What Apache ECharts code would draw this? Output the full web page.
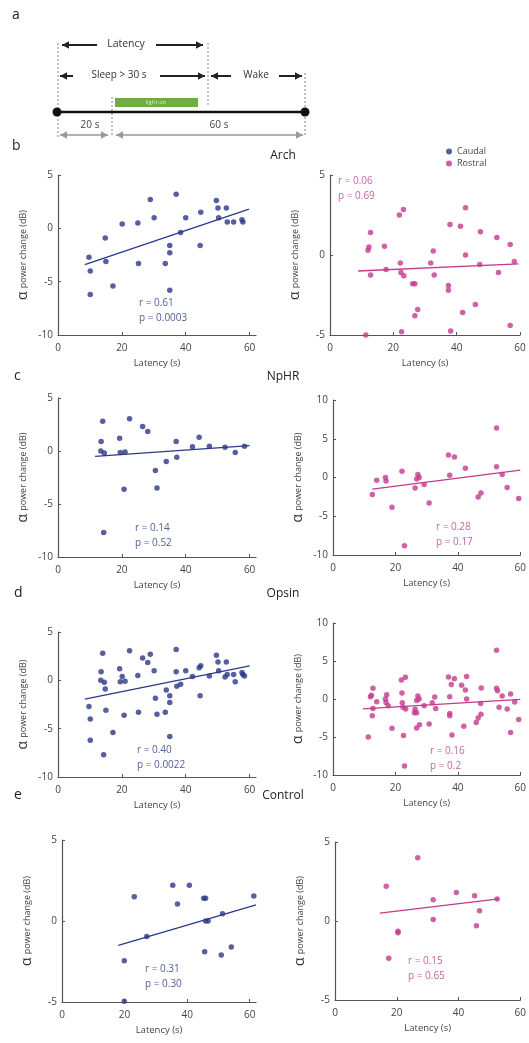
<!DOCTYPE html>
<html>
<head>
<meta charset="utf-8">
<script src="https://cdn.jsdelivr.net/npm/echarts@6/dist/echarts.min.js"></script>
<style>
  html, body { margin: 0; padding: 0; background: #fff; }
  #chart { width: 529px; height: 1043px; }
</style>
</head>
<body>
<div id="chart"></div>
<script>
// latency (s), alpha power change (dB)
const archCaudal = [[9.7,-2.7],[10.1,-4.0],[10.1,-6.2],[14.8,-0.9],[15,-3.1],[17.2,-5.4],[20.1,0.4],[25,0.5],[25.2,-3.3],[28.9,2.7],[30.1,1.0],[33.6,-3.3],[35,-1.6],[35,-2.3],[35,-5.8],[37,3.2],[38.4,-0.4],[40,1.0],[44.7,1.5],[44.5,-1.6],[49.6,2.6],[50.1,1.9],[50.3,1.0],[52.7,1.9],[53,0.6],[55,0.6],[57.6,0.8],[57.9,0.6]]
const archRostral = [[11.3,-5.0],[12,0.3],[12.3,0.5],[12.8,1.4],[12.8,-1.25],[17.2,0.55],[17.7,-0.9],[21.9,2.5],[23.2,2.85],[22.2,-0.5],[22.4,-1.1],[23.3,-1.3],[22.6,-4.8],[26.1,-1.8],[26.8,-1.8],[26.8,-3.8],[27.7,-3.4],[31.8,-0.5],[32.6,0.25],[32.9,-1.25],[37.4,-1.9],[37.4,-2.2],[37.9,1.9],[38.1,-4.75],[41.2,1.8],[41.9,-3.6],[42.8,2.95],[42.8,0],[45.9,-3.1],[47.3,-0.6],[47.5,1.45],[52.7,1.1],[53.2,-1.1],[56.9,0.65],[56.9,-4.4],[58.2,-0.4]]
const nphrCaudal = [[14,2.8],[13.5,0.9],[13.4,0],[14.5,-0.2],[14.3,-7.7],[19.3,1.2],[19.5,-0.15],[21,-0.1],[20.7,-3.6],[22.4,3.05],[26.5,2.3],[28.1,1.85],[30.5,-1.85],[31,-3.5],[33.9,-1.0],[37,0.9],[37.2,-0.6],[42.1,0.4],[44.2,1.3],[47.4,0.45],[52.3,0.35],[55.5,-0.15],[58.4,0.45]]
const nphrRostral = [[12.6,-2.2],[14,-0.35],[16.8,0],[17,-0.45],[22.1,0.8],[18.9,-3.85],[22.9,-8.8],[26.3,-1.35],[26.8,-0.2],[27.2,0.4],[27.6,0],[29.2,-0.9],[30.8,-3.3],[37,2.9],[37.4,0.3],[38.9,2.65],[42.4,1.2],[46.5,-2.5],[47.4,-2.0],[52.4,6.4],[52.4,1.4],[54.2,0.4],[55.8,-1.3],[59.5,-2.7]]
const ctrlCaudal = [[19.9,-2.45],[19.9,-4.95],[23.1,1.5],[27.1,-0.95],[35.4,2.2],[36.9,1.05],[40.7,2.2],[45.3,1.4],[45.9,1.4],[45.9,0],[46.7,0],[45.6,-1.9],[50.9,-2.1],[51.3,0.45],[54.1,-1.6],[61.3,1.55]]
const ctrlRostral = [[16.6,2.2],[17.4,-2.35],[20.4,-0.65],[20.4,-0.75],[26.8,4.0],[31.8,1.35],[31.8,0.1],[39.3,1.8],[45.2,1.6],[45.8,-0.3],[46.8,0.65],[52.5,1.4]]

// regression line end points
const archCaudalFit = [[8.4,-3.4],[59.8,1.8]]
const archRostralFit = [[8.9,-1.0],[59.5,-0.55]]
const nphrCaudalFit = [[11.6,-0.5],[60,0.5]]
const nphrRostralFit = [[12.6,-1.5],[60,0.95]]
const opsinCaudalFit = [[8.4,-1.95],[60,1.5]]
const opsinRostralFit = [[9.6,-1.3],[60,-0.05]]
const ctrlCaudalFit = [[18,-1.5],[62,1.0]]
const ctrlRostralFit = [[14.5,0.5],[53,1.4]]

const statsR = ['r = 0.61', 'r = 0.06', 'r = 0.14', 'r = 0.28', 'r = 0.40', 'r = 0.16', 'r = 0.31', 'r = 0.15']
const statsP = ['p = 0.0003', 'p = 0.69', 'p = 0.52', 'p = 0.17', 'p = 0.0022', 'p = 0.2', 'p = 0.30', 'p = 0.65']
const groupNames = ['Arch', 'NpHR', 'Opsin', 'Control']
const xTicks = [0, 20, 40, 60]

const BLUE = '#2c3888'
const PINK = '#c43a8c'
const BLUE_TXT = '#52609a'
const PINK_TXT = '#c566a2'
const FONT = '"Open Sans", "Noto Sans", sans-serif'

// opsin = arch + nphR animals
const opsinCaudal = archCaudal.concat(nphrCaudal)
const opsinRostral = archRostral.concat(nphrRostral)

const panels = [
  { left: 58, top: 175, h: 160, xMax: 62, w: 198, yMin: -10, yMax: 5, data: archCaudal, fit: archCaudalFit, side: 'Caudal', tx: 139, ty: 305 },
  { left: 330, top: 175, h: 160, xMax: 60, w: 190, yMin: -5, yMax: 5, data: archRostral, fit: archRostralFit, side: 'Rostral', tx: 338, ty: 183 },
  { left: 58, top: 398, h: 159, xMax: 62, w: 198, yMin: -10, yMax: 5, data: nphrCaudal, fit: nphrCaudalFit, side: 'Caudal', tx: 135, ty: 530 },
  { left: 333, top: 400, h: 155, xMax: 60, w: 190, yMin: -10, yMax: 10, data: nphrRostral, fit: nphrRostralFit, side: 'Rostral', tx: 436, ty: 529 },
  { left: 58, top: 632, h: 145, xMax: 62, w: 198, yMin: -10, yMax: 5, data: opsinCaudal, fit: opsinCaudalFit, side: 'Caudal', tx: 137, ty: 752 },
  { left: 333, top: 623, h: 152, xMax: 60, w: 190, yMin: -10, yMax: 10, data: opsinRostral, fit: opsinRostralFit, side: 'Rostral', tx: 430, ty: 753 },
  { left: 62, top: 840, h: 162, xMax: 62, w: 194, yMin: -5, yMax: 5, data: ctrlCaudal, fit: ctrlCaudalFit, side: 'Caudal', tx: 145, ty: 971 },
  { left: 335, top: 842, h: 158, xMax: 60, w: 188, yMin: -5, yMax: 5, data: ctrlRostral, fit: ctrlRostralFit, side: 'Rostral', tx: 408, ty: 963 }
]

let myChart = echarts.init(document.getElementById('chart'))

let grids = []
let xAxes = []
let yAxes = []
let series = []
let graphics = []

panels.forEach(function (p, i) {
  let col = p.side === 'Caudal' ? BLUE : PINK
  let txtCol = p.side === 'Caudal' ? BLUE_TXT : PINK_TXT
  grids.push({ left: p.left, top: p.top, width: p.w, height: p.h })
  xAxes.push({
    gridIndex: i, type: 'value', min: 0, max: p.xMax,
    axisLine: { show: true, onZero: false, lineStyle: { color: '#555', width: 1.2 } },
    axisTick: { show: true, inside: true, length: 3, customValues: xTicks, lineStyle: { color: '#555' } },
    axisLabel: { customValues: xTicks, fontSize: 10, color: '#444', margin: 8, fontFamily: FONT },
    splitLine: { show: false },
    name: 'Latency (s)', nameLocation: 'middle', nameGap: 23,
    nameTextStyle: { fontSize: 9.5, color: '#444', fontFamily: FONT }
  })
  yAxes.push({
    gridIndex: i, type: 'value', min: p.yMin, max: p.yMax, interval: 5,
    axisLine: { show: true, onZero: false, lineStyle: { color: '#555', width: 1.2 } },
    axisTick: { show: true, inside: true, length: 3, lineStyle: { color: '#555' } },
    axisLabel: { fontSize: 10, color: '#444', margin: 5, fontFamily: FONT },
    splitLine: { show: false },
    name: '{a|α} {b|power change (dB)}', nameLocation: 'middle', nameRotate: 90, nameGap: 28,
    nameTextStyle: {
      color: '#333',
      rich: {
        a: { fontSize: 14, color: '#333', fontFamily: FONT },
        b: { fontSize: 9, color: '#444', fontFamily: FONT }
      }
    }
  })
  series.push({
    name: p.side, type: 'scatter', xAxisIndex: i, yAxisIndex: i,
    data: p.data, symbolSize: 5.5, itemStyle: { color: col }
  })
  series.push({
    name: 'fit' + i, type: 'line', xAxisIndex: i, yAxisIndex: i,
    data: p.fit, showSymbol: false, silent: true,
    lineStyle: { color: col, width: 1.3 }
  })
  graphics.push({ type: 'text', left: p.tx, top: p.ty - 7, style: { text: statsR[i], fontSize: 10, fill: txtCol, fontFamily: FONT } })
  graphics.push({ type: 'text', left: p.tx, top: p.ty + 8, style: { text: statsP[i], fontSize: 10, fill: txtCol, fontFamily: FONT } })
})

// panel letters and group titles
const letterPos = [['a', 12, 8], ['b', 12, 139], ['c', 14, 369], ['d', 14, 586], ['e', 14, 788]]
letterPos.forEach(function (l) {
  graphics.push({ type: 'text', left: l[1], top: l[2], style: { text: l[0], fontSize: 14, fill: '#222', fontFamily: FONT } })
})
const titleY = [150, 371, 588, 790]
groupNames.forEach(function (g, i) {
  graphics.push({ type: 'text', x: 283, y: titleY[i], style: { text: g, fontSize: 12, fill: '#222', fontFamily: FONT, align: 'center' } })
})

// panel a: timeline diagram
function head (x, y, dir, color, s) {
  return { type: 'polygon', shape: { points: [[x, y], [x - dir * s, y - s * 0.55], [x - dir * s, y + s * 0.55]] }, style: { fill: color } }
}
function seg (x1, x2, y, color, w, lh, rh) {
  let out = [{ type: 'line', shape: { x1: x1, y1: y, x2: x2, y2: y }, style: { stroke: color, lineWidth: w } }]
  if (lh) out.push(head(x1, y, -1, color, 7))
  if (rh) out.push(head(x2, y, 1, color, 7))
  return out
}
function vdot (x, y1, y2) {
  return { type: 'line', shape: { x1: x, y1: y1, x2: x, y2: y2 }, style: { stroke: '#888', lineWidth: 1, lineDash: [2, 2] } }
}
function label (t, x, y, size, color) {
  return { type: 'text', x: x, y: y, style: { text: t, fontSize: size, fill: color, fontFamily: FONT, align: 'center', verticalAlign: 'middle' } }
}
let diag = []
diag.push(vdot(58, 43, 137), vdot(208, 43, 107), vdot(305, 73, 137), vdot(112, 97, 137))
diag = diag.concat(seg(62, 97, 45, '#222', 2, true, false), seg(156, 203, 45, '#222', 2, false, true))
diag.push(label('Latency', 126, 44, 10.5, '#333'))
diag = diag.concat(seg(60, 73, 76, '#222', 2, true, false), seg(160, 205, 76, '#222', 2, false, true))
diag.push(label('Sleep > 30 s', 119, 75, 10, '#333'))
diag = diag.concat(seg(211, 231, 76, '#222', 2, true, false), seg(279, 302, 76, '#222', 2, false, true))
diag.push(label('Wake', 256, 75, 10, '#333'))
diag.push({ type: 'rect', shape: { x: 115, y: 98, width: 83, height: 9 }, style: { fill: '#6fae45' } })
diag.push(label('light on', 156, 102.5, 6, '#d8ecc8'))
diag.push({ type: 'line', shape: { x1: 57, y1: 112, x2: 305, y2: 112 }, style: { stroke: '#111', lineWidth: 2.5 } })
diag.push({ type: 'circle', shape: { cx: 57, cy: 112, r: 4.5 }, style: { fill: '#111' } })
diag.push({ type: 'circle', shape: { cx: 305, cy: 112, r: 4.5 }, style: { fill: '#111' } })
diag.push(label('20 s', 90, 125, 10, '#444'), label('60 s', 219, 125, 10, '#444'))
diag = diag.concat(seg(60, 108, 135, '#999', 1.5, true, true), seg(116, 303, 135, '#999', 1.5, true, true))
graphics = graphics.concat(diag)

let option = {
  animation: false,
  textStyle: { fontFamily: FONT },
  legend: {
    data: ['Caudal', 'Rostral'],
    orient: 'vertical', left: 441, top: 142, itemGap: 3,
    icon: 'circle', itemWidth: 6, itemHeight: 6,
    textStyle: { fontSize: 9, color: '#444', fontFamily: FONT }
  },
  grid: grids,
  xAxis: xAxes,
  yAxis: yAxes,
  series: series,
  graphic: graphics
}
myChart.setOption(option)
</script>
</body>
</html>
